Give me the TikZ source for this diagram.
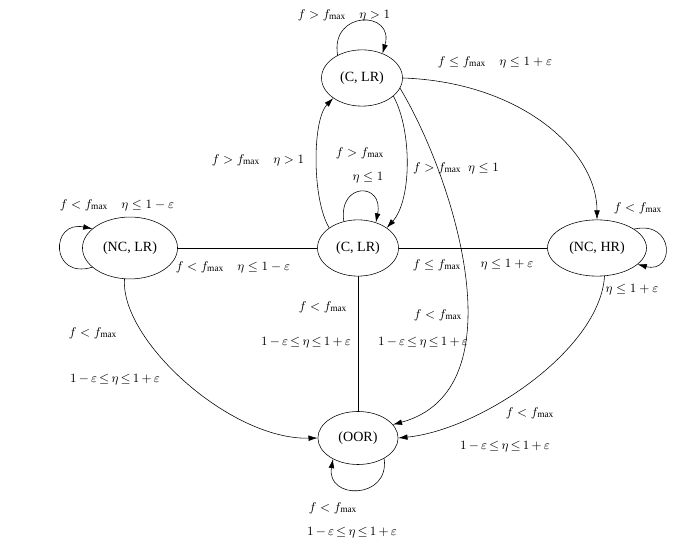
\documentclass[tikz,border=0pt]{standalone}
\usepackage{fontspec}
\setmainfont{Liberation Serif}
\usetikzlibrary{shapes.geometric,arrows.meta}
\tikzset{state/.style={
        ellipse, draw, thin, inner sep=0pt,
        minimum width=#1, minimum height=40pt
    },
    arr/.style={-{Latex[length=6.5pt,width=4pt]}},
    lbl/.style={inner sep=0pt, font=\fontsize{9.5}{11}\selectfont}
}
\newcommand{\fm}{f_{\max}}
\newcommand{\band}{1\,{-}\,\varepsilon\,{\le}\,\eta\,{\le}\,1\,{+}\,\varepsilon}

\begin{document}
\begin{tikzpicture}[x=0.025cm, y=-0.025cm, thin]
    \useasboundingbox (0,0) rectangle (687,543);
    % States
    \node[state=57.6pt] (CLRa) at (362,78) {(C, LR)};
    \node[state=57.6pt] (CLRb) at (358,248) {(C, LR)};
    \node[state=67.6pt, minimum height=44pt] (NCLR) at (130,248) {(NC, LR)};
    \node[state=70.4pt] (NCHR) at (597,248) {(NC, HR)};
    \node[state=57pt, minimum height=37.7pt] (OOR) at (358,438) {(OOR)};
    % Plain links
    \draw (NCLR) -- (CLRb);
    \draw (CLRb) -- (NCHR);
    \draw (CLRb) -- (OOR);
    % Self loops
    \draw[arr] (CLRa.137) .. controls (330,10) and (395,10) .. (CLRa.50);
    \draw[arr] (CLRb.118) .. controls (338,182) and (384,182) .. (CLRb.55);
    \draw[arr] (NCLR.207) .. controls (50,280) and (50,220) .. (NCLR.153);
    \draw[arr] (NCHR.27) .. controls (675,220) and (675,274) .. (NCHR.-22);
    \draw[arr] (OOR.-38) .. controls (390,500) and (326,500) .. (OOR.220);
    % Transitions
    \draw[arr] (CLRb.145) .. controls (312,200) and (312,120) .. (CLRa.215);
    \draw[arr] (CLRa.-30) .. controls (412,130) and (412,200) .. (CLRb.35);
    \draw[arr] (CLRa.east) .. controls (520,82) and (597,150) .. (NCHR.north);
    \draw[arr] (CLRa.-15) .. controls (455,180) and (520,390) .. (OOR.21);
    \draw[arr] (NCLR.-100) .. controls (120,340) and (230,440) .. (OOR.west);
    \draw[arr] (NCHR.-75) .. controls (600,350) and (480,430) .. (OOR.east);
    % Conditions
    \node[lbl] (c1) at (344,15) {$f>\fm\quad\eta>1$};
    \node[lbl] (c2) at (495,62) {$f\le\fm\quad\eta\le1+\varepsilon$};
    \node[lbl] (c3) at (258,160) {$f>\fm\quad\eta>1$};
    \node[lbl] (c4) at (360,153) {$f>\fm$};
    \node[lbl] (c5) at (368,178) {$\eta\le1$};
    \node[lbl] (c6) at (456,168) {$f>\fm\ \ \eta\le1$};
    \node[lbl] (c7) at (117,205) {$f<\fm\quad\eta\le1-\varepsilon$};
    \node[lbl] (c8) at (233,267) {$f<\fm\quad\eta\le1-\varepsilon$};
    \node[lbl] (c9) at (638,208) {$f<\fm$};
    \node[lbl] (c10) at (437,265) {$f\le\fm$};
    \node[lbl] (c11) at (507,265) {$\eta\le1+\varepsilon$};
    \node[lbl] (c12) at (632,290) {$\eta\le1+\varepsilon$};
    \node[lbl] (c13) at (323,307) {$f<\fm$};
    \node[lbl] (c14) at (306,343) {$\band$};
    \node[lbl] (c15) at (438,315) {$f<\fm$};
    \node[lbl] (c16) at (423,343) {$\band$};
    \node[lbl] (c17) at (93,333) {$f<\fm$};
    \node[lbl] (c18) at (115,380) {$\band$};
    \node[lbl] (c19) at (530,413) {$f<\fm$};
    \node[lbl] (c20) at (505,447) {$\band$};
    \node[lbl] (c21) at (333,508) {$f<\fm$};
    \node[lbl] (c22) at (352,533) {$\band$};
\end{tikzpicture}
\end{document}
